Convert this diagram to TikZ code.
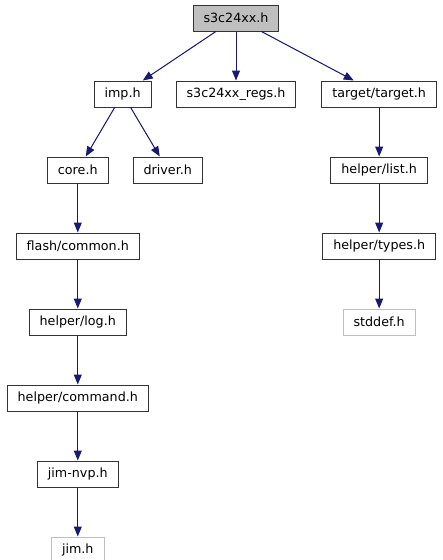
\documentclass[tikz,border=0pt]{standalone}
\usepackage{fontspec}
\setmainfont{DejaVu Sans}
\usetikzlibrary{arrows.meta, positioning}
\definecolor{edgeblue}{HTML}{191970}
\definecolor{boxgray}{HTML}{BFBFBF}

\begin{document}
\begin{tikzpicture}[
    x=1pt, y=1pt,
    node distance=49pt,
    file/.style={draw=black!80, rectangle, fill=white, font=\fontsize{12.7}{15}\selectfont, minimum height=26pt, inner xsep=10.5pt, inner ysep=0pt, line width=1pt},
    current/.style={file, fill=boxgray},
    external/.style={file, draw=boxgray},
    arrow/.style={draw=edgeblue, line width=1pt, -{Triangle[length=10pt, width=8pt]}, fill=edgeblue}
]
\useasboundingbox (0,0) rectangle (443,-560);

\node[current] (s3c) at (236,-18) {s3c24xx.h};
\node[file, below=of s3c] (regs) {s3c24xx\_regs.h};
\node[file, left=24pt of regs] (imp) {imp.h};
\node[file, right=25pt of regs] (target) {target/target.h};
\node[file, below left=49pt and -15pt of imp] (core) {core.h};
\node[file, below right=49pt and -19pt of imp] (driver) {driver.h};
\node[file, below=of target] (list) {helper/list.h};
\node[file, below=of list] (types) {helper/types.h};
\node[external, below=of types] (stddef) {stddef.h};
\node[file, below=of core] (common) {flash/common.h};
\node[file, below=of common] (log) {helper/log.h};
\node[file, below=of log] (command) {helper/command.h};
\node[file, below=of command] (jimnvp) {jim-nvp.h};
\node[external, below=of jimnvp] (jim) {jim.h};

\draw[arrow] (s3c) -- (imp);
\draw[arrow] (s3c) -- (regs);
\draw[arrow] (s3c) -- (target);
\draw[arrow] (imp) -- (core);
\draw[arrow] (imp) -- (driver);
\draw[arrow] (core) -- (common);
\draw[arrow] (common) -- (log);
\draw[arrow] (log) -- (command);
\draw[arrow] (command) -- (jimnvp);
\draw[arrow] (jimnvp) -- (jim);
\draw[arrow] (target) -- (list);
\draw[arrow] (list) -- (types);
\draw[arrow] (types) -- (stddef);

\end{tikzpicture}
\end{document}
